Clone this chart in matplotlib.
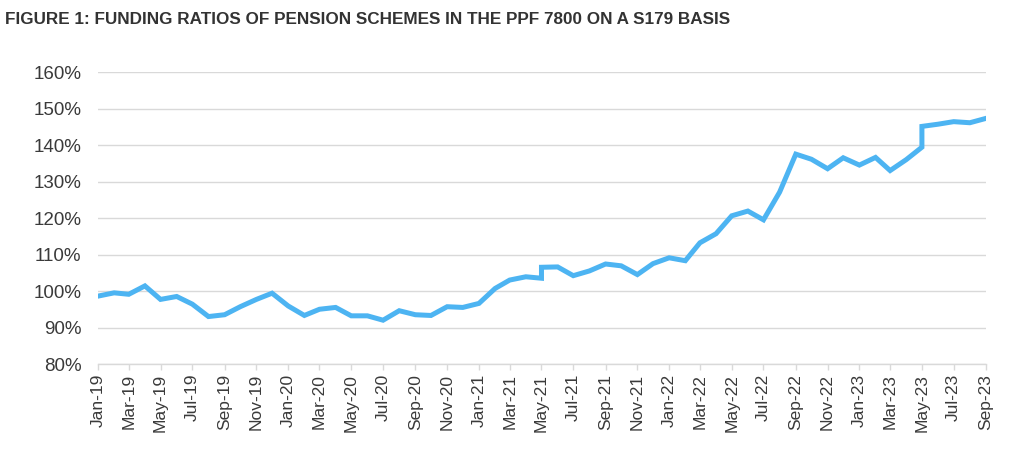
import numpy as np
import pandas as pd
import matplotlib
matplotlib.use('Agg')
import matplotlib.pyplot as plt
import matplotlib.dates as mdates
from matplotlib.ticker import FuncFormatter

# monthly funding ratio (%), May-21 and May-23 appear twice (basis change)
months = ['2019-01', '2019-02', '2019-03', '2019-04', '2019-05', '2019-06', '2019-07', '2019-08',
          '2019-09', '2019-10', '2019-11', '2019-12', '2020-01', '2020-02', '2020-03', '2020-04',
          '2020-05', '2020-06', '2020-07', '2020-08', '2020-09', '2020-10', '2020-11', '2020-12',
          '2021-01', '2021-02', '2021-03', '2021-04', '2021-05', '2021-05', '2021-06', '2021-07',
          '2021-08', '2021-09', '2021-10', '2021-11', '2021-12', '2022-01', '2022-02', '2022-03',
          '2022-04', '2022-05', '2022-06', '2022-07', '2022-08', '2022-09', '2022-10', '2022-11',
          '2022-12', '2023-01', '2023-02', '2023-03', '2023-04', '2023-05', '2023-05', '2023-06',
          '2023-07', '2023-08', '2023-09']
ratio = [98.6, 99.5, 99.1, 101.4, 97.7, 98.5, 96.4, 93.0,
         93.5, 95.7, 97.7, 99.4, 95.9, 93.3, 95.0, 95.5,
         93.2, 93.2, 92.0, 94.6, 93.5, 93.3, 95.7, 95.5,
         96.6, 100.7, 103.0, 103.9, 103.5, 106.5, 106.6, 104.2,
         105.5, 107.4, 106.9, 104.5, 107.5, 109.1, 108.3, 113.2,
         115.7, 120.6, 121.9, 119.5, 127.1, 137.5, 136.1, 133.5,
         136.5, 134.5, 136.6, 133.0, 136.0, 139.4, 145.1, 145.7,
         146.4, 146.1, 147.3]

dates = pd.to_datetime(months)

fig = plt.figure(figsize=(10.24, 4.61), dpi=100)
ax = fig.add_axes([0.0957, 0.2104, 0.8672, 0.6334])

ax.plot(dates, np.array(ratio) / 100, color='#4db4f2', lw=3.6, solid_joinstyle='miter', zorder=3)

ax.set_xlim(dates[0], dates[-1])
ax.set_ylim(0.8, 1.6)
ax.set_yticks(np.arange(0.8, 1.61, 0.1))
ax.yaxis.set_major_formatter(FuncFormatter(lambda v, p: '{:.0f}%'.format(v * 100)))
ax.xaxis.set_major_locator(mdates.MonthLocator(bymonth=[1, 3, 5, 7, 9, 11]))
ax.xaxis.set_major_formatter(mdates.DateFormatter('%b-%y'))

ax.grid(axis='y', color='#d9d9d9', lw=1)
ax.set_axisbelow(True)
for s in ['top', 'right', 'left']:
    ax.spines[s].set_visible(False)
ax.spines['bottom'].set_color('#d9d9d9')
ax.spines['bottom'].set_linewidth(1)
ax.tick_params(axis='y', length=0, pad=12, labelsize=13.5, labelcolor='#3a3a3a')
ax.tick_params(axis='x', length=4, color='#d9d9d9', width=1, labelsize=12.5,
               labelcolor='#3a3a3a', labelrotation=90, pad=3)
for lab in ax.get_xticklabels() + ax.get_yticklabels():
    lab.set_family(['Liberation Sans', 'DejaVu Sans'])

fig.text(0.005, 0.958, 'FIGURE 1: FUNDING RATIOS OF PENSION SCHEMES IN THE PPF 7800 ON A S179 BASIS',
         fontsize=12.3, fontweight='bold', color='#333333', va='center', ha='left',
         family=['Liberation Sans Narrow', 'Liberation Sans', 'DejaVu Sans'])

fig.savefig('out.png', dpi=100)
